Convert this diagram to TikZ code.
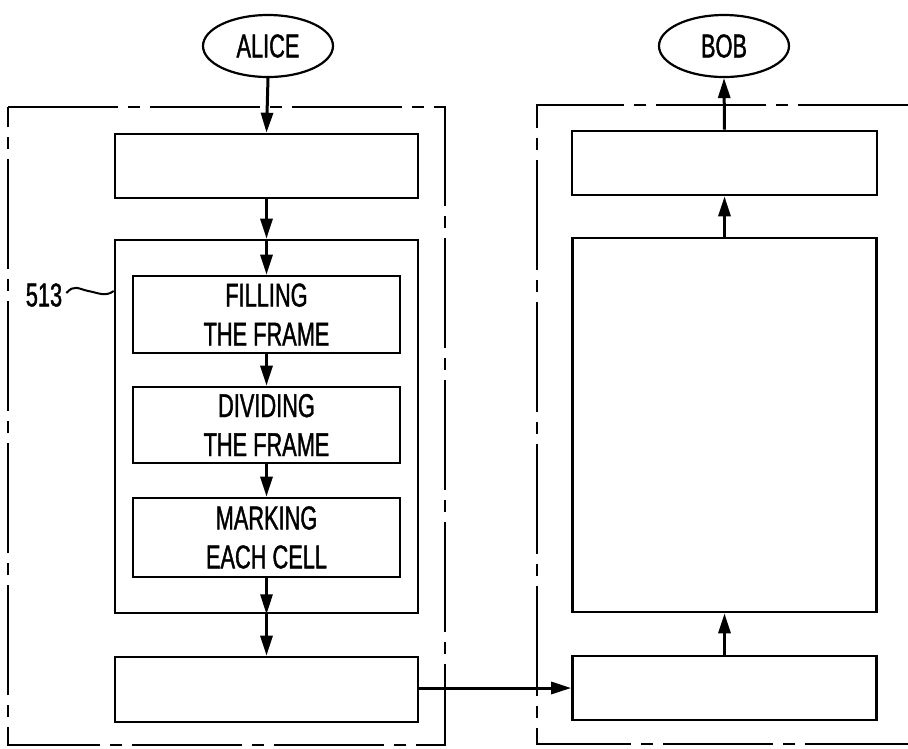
\documentclass[tikz,border=0pt]{standalone}
\usepackage{fontspec}
\setmainfont{Liberation Sans}[FakeStretch=0.66,FakeBold=1.2]
\usetikzlibrary{arrows.meta,shapes.geometric}
\tikzset{
  box/.style={draw, line width=2.6pt, rectangle, inner sep=0pt, align=center,
    font=\fontsize{33}{39}\selectfont},
  term/.style={draw, line width=2.2pt, ellipse, inner sep=0pt,
    minimum width=130pt, minimum height=62pt, font=\fontsize{33}{39}\selectfont},
  flow/.style={line width=3pt, -{Triangle[width=12pt,length=20pt]}},
  frame/.style={line width=2.4pt, dash pattern=on 110pt off 10pt on 12pt off 10pt},
}
\begin{document}
\begin{tikzpicture}[x=1pt,y=-1pt]
\useasboundingbox (0,0) rectangle (908,748);
% frames
\draw[frame] (8,107) -- (445,107) -- (445,745) -- (8,745) -- cycle;
\draw[frame] (908,105) -- (537,105) -- (537,744) -- (908,744);
% terminals
\node[term] (alice) at (268,46) {ALICE};
\node[term] (bob) at (724,46) {BOB};
% left column
\node[box, minimum width=303pt, minimum height=64pt] (l1) at (266.5,166) {};
\node[box, minimum width=303pt, minimum height=373pt] (lo) at (266.5,426.5) {};
\node[box, minimum width=267pt, minimum height=77pt] (fill) at (266.5,314.5) {FILLING\\THE FRAME};
\node[box, minimum width=267pt, minimum height=76pt] (div) at (266.5,425) {DIVIDING\\THE FRAME};
\node[box, minimum width=267pt, minimum height=79pt] (mark) at (266.5,537.5) {MARKING\\EACH CELL};
\node[box, minimum width=303pt, minimum height=65pt] (l2) at (266.5,689.5) {};
% right column
\node[box, minimum width=305pt, minimum height=64pt] (r1) at (724.5,163) {};
\node[box, minimum width=304pt, minimum height=374pt] (rb) at (724.5,425) {};
\node[box, minimum width=304pt, minimum height=64pt] (r2) at (724.5,688) {};
% label
\node[font=\fontsize{33}{39}\selectfont, inner sep=0pt] (lbl) at (44,295) {513};
\draw[line width=2pt] (lbl.east) ++(4pt,2pt) .. controls +(8,-9) and +(-10,-2) .. ++(22,-2)
  .. controls +(10,2) and +(-8,6) .. (lo.west |- 0,291);
% connectors left
\draw[flow] (alice.south) -- (l1.north);
\draw[flow] (l1.south) -- (lo.north);
\draw[flow] (lo.north) -- (fill.north);
\draw[flow] (fill.south) -- (div.north);
\draw[flow] (div.south) -- (mark.north);
\draw[flow] (mark.south) -- (lo.south);
\draw[flow] (lo.south) -- (l2.north);
\draw[flow] (l2.east |- 0,688) -- (r2.west);
% connectors right
\draw[flow] (r2.north) -- (rb.south);
\draw[flow] (rb.north) -- (r1.south);
\draw[flow] (r1.north) -- (bob.south);
\end{tikzpicture}
\end{document}
